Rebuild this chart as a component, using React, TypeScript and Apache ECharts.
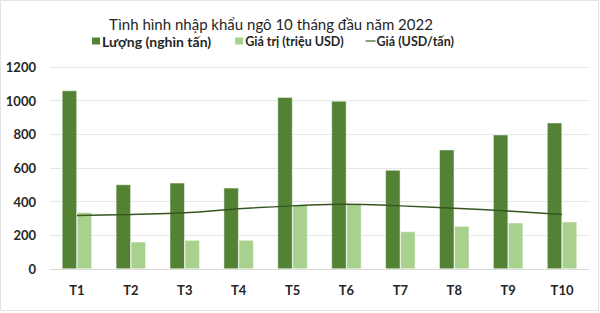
import React, { useEffect, useRef } from "react";
import * as echarts from "echarts";

const categories = ["T1", "T2", "T3", "T4", "T5", "T6", "T7", "T8", "T9", "T10"];
const luong = [1060, 502, 512, 482, 1021, 998, 588, 709, 798, 869];
const giaTri = [337, 162, 172, 172, 383, 385, 223, 255, 275, 281];
const gia = [318, 324, 334, 358, 375, 385, 375, 361, 344, 324];
const yTicks = [0, 200, 400, 600, 800, 1000, 1200];

const FONT = "Lato, 'Noto Sans', sans-serif";

export default function App() {
  const ref = useRef<HTMLDivElement>(null);
  useEffect(() => {
    if (!ref.current) return;
    const chart = echarts.init(ref.current, undefined, { renderer: "svg" });
    chart.setOption({
      animation: false,
      backgroundColor: "#ffffff",
      textStyle: { fontFamily: FONT },
      title: {
        text: "Tình hình nhập khẩu ngô 10 tháng đầu năm 2022",
        left: 104,
        top: 11,
        textStyle: { fontFamily: FONT, fontSize: 15, fontWeight: "normal", color: "#262626" },
      },
      legend: {
        top: 29,
        left: 85,
        itemWidth: 10,
        itemHeight: 9,
        itemGap: 22,
        textStyle: { fontFamily: FONT, fontSize: 12.5, fontWeight: "bold", color: "#262626", padding: [0, 0, 0, -4] },
        data: [
          { name: "Lượng (nghìn tấn)", icon: "rect", textStyle: { fontSize: 14 } },
          { name: "Giá trị (triệu USD)", icon: "rect" },
          { name: "Giá (USD/tấn)", icon: "path://M0,0 H12 V1.4 H0 Z" },
        ],
      },
      grid: { left: 50, right: 11, top: 67, bottom: 44, containLabel: false },
      xAxis: {
        type: "category",
        data: categories,
        axisLine: { show: true, lineStyle: { color: "#d9d9d9" } },
        axisTick: { show: false },
        axisLabel: { fontFamily: FONT, fontSize: 13, fontWeight: "bold", color: "#262626", margin: 14 },
      },
      yAxis: {
        type: "value",
        min: yTicks[0],
        max: yTicks[yTicks.length - 1],
        interval: 200,
        axisLine: { show: false },
        axisTick: { show: false },
        splitLine: { lineStyle: { color: "#e6e6e6" } },
        axisLabel: {
          fontFamily: FONT,
          fontSize: 13,
          fontWeight: "bold",
          color: "#262626",
          margin: 14,
          formatter: (v: number) => String(v),
        },
      },
      series: [
        {
          name: "Lượng (nghìn tấn)",
          type: "bar",
          data: luong,
          barWidth: 15,
          barGap: "0%",
          itemStyle: { color: "#548235", borderColor: "#ffffff", borderWidth: 0.5 },
        },
        {
          name: "Giá trị (triệu USD)",
          type: "bar",
          data: giaTri,
          barWidth: 15,
          barGap: "0%",
          itemStyle: { color: "#a9d18e", borderColor: "#ffffff", borderWidth: 0.5 },
        },
        {
          name: "Giá (USD/tấn)",
          type: "line",
          data: gia,
          smooth: true,
          symbol: "none",
          lineStyle: { color: "#375623", width: 1.5 },
          itemStyle: { color: "#375623" },
        },
      ],
      graphic: [
        {
          type: "rect",
          shape: { x: 0.5, y: 0.5, width: 598, height: 310 },
          style: { fill: "none", stroke: "#e3e3e3", lineWidth: 1 },
          silent: true,
        },
      ],
    });
    return () => chart.dispose();
  }, []);
  return (
    <div
      ref={ref}
      style={{ position: "fixed", left: 0, top: 0, width: 600, height: 313 }}
    />
  );
}
